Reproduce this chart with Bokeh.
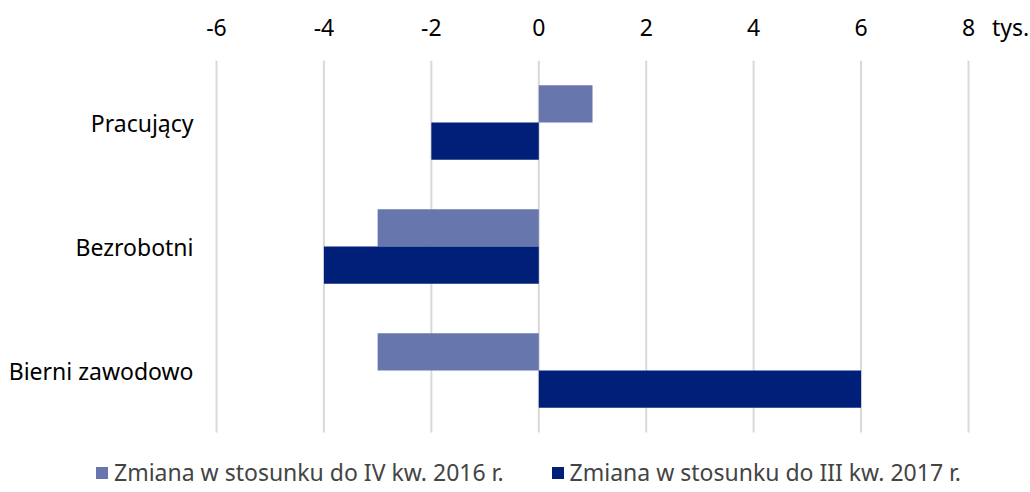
from bokeh.plotting import figure
from bokeh.models import Range1d, Legend, LegendItem, ColumnDataSource, FixedTicker
from bokeh.core.properties import value
from bokeh.embed import file_html
from bokeh.resources import INLINE

categories = ["Pracujący", "Bezrobotni", "Bierni zawodowo"]
series_names = ["Zmiana w stosunku do IV kw. 2016 r.", "Zmiana w stosunku do III kw. 2017 r."]
vs_q4_2016 = [1, -3, -3]
vs_q3_2017 = [-2, -4, 6]
x_ticks = [-6, -4, -2, 0, 2, 4, 6, 8]
unit_label = "tys."

FONT = "Noto Sans"
FS = "23px"
LIGHT = "#6777AD"
DARK = "#001F78"
GRID = "#D9D9D9"

# ---- layout constants (pixels) ----
W, H = 1030, 492
TOP = 60                      # space for the top axis
PX = 752 / (x_ticks[-1] - x_ticks[0])   # px per x unit
LEFT_PX = 216                 # first gridline position
RIGHT_PX = 62                 # room right of the last gridline
n = len(categories)
PY = 372 / n                  # px per category
BOTTOM_PX = H - TOP - 372     # legend strip below the categories

ypos = [n - i - 0.5 for i in range(n)]
src = ColumnDataSource(dict(
    cat=categories, y=ypos,
    ya=[v + 0.15 for v in ypos], yb=[v - 0.15 for v in ypos],
    a=vs_q4_2016, b=vs_q3_2017,
))

p = figure(
    x_range=Range1d(x_ticks[0] - LEFT_PX / PX, x_ticks[-1] + RIGHT_PX / PX),
    y_range=Range1d(-BOTTOM_PX / PY, n),
    width=W, height=H,
    min_border_left=0, min_border_right=0, min_border_bottom=0, min_border_top=TOP,
    x_axis_location="above", y_axis_location=None,
    output_backend="svg", toolbar_location=None,
)
p.outline_line_color = None
p.background_fill_color = "white"
p.border_fill_color = "white"
p.grid.visible = False

# vertical gridlines over the category area only
p.segment(x0=x_ticks, x1=x_ticks, y0=0, y1=n, line_color=GRID, line_width=2)

ra = p.hbar(y="ya", left=0, right="a", height=0.3, source=src,
            fill_color=LIGHT, line_color=None)
rb = p.hbar(y="yb", left=0, right="b", height=0.3, source=src,
            fill_color=DARK, line_color=None)

# category labels, right-aligned just left of the first gridline
p.text(x=x_ticks[0] - 23 / PX, y="y", text="cat", source=src,
       text_align="right", text_baseline="middle",
       text_font=value(FONT), text_font_size=value(FS), text_color="#000000")

# top axis; unit label sits just right of the last tick
unit_pos = x_ticks[-1] + 42 / PX
p.xaxis.ticker = FixedTicker(ticks=x_ticks + [unit_pos])
overrides = {t: str(t) for t in x_ticks}
overrides[unit_pos] = unit_label
p.xaxis.major_label_overrides = overrides
ax = p.xaxis[0]
ax.axis_line_color = None
ax.major_tick_line_color = None
ax.minor_tick_line_color = None
ax.major_tick_out = 0
ax.major_tick_in = 0
ax.major_label_text_font = FONT
ax.major_label_text_font_size = FS
ax.major_label_text_color = "#000000"
ax.major_label_standoff = 18

legend = Legend(items=[LegendItem(label=series_names[0], renderers=[ra]),
                       LegendItem(label=series_names[1], renderers=[rb])],
                orientation="horizontal", location=(94, 4),
                label_text_font=FONT, label_text_font_size=FS,
                glyph_width=15, glyph_height=15, spacing=46, label_standoff=5,
                border_line_color=None, background_fill_alpha=0, margin=0, padding=3)
p.add_layout(legend, "center")

open("out.html", "w").write(file_html(p, INLINE))
